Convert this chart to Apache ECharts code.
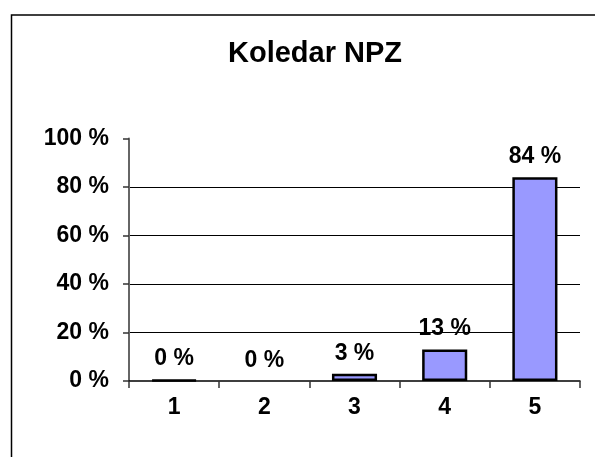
<!DOCTYPE html>
<html lang="sl">
<head>
    <meta charset="UTF-8">
    <title>Koledar NPZ</title>
    <style>
        html, body { margin: 0; padding: 0; background: #fff; }
    </style>
</head>
<body>
<div id="main" style="width:595px;height:457px;"></div>
<script src="https://cdn.jsdelivr.net/npm/echarts@6/dist/echarts.min.js"></script>
<script>
    // podatki
    var categories = ['1', '2', '3', '4', '5'];
    var values = [0.45, 0, 3, 13, 84];
    var yTicks = [0, 20, 40, 60, 80, 100];

    var font = '"Liberation Sans", Arial, sans-serif';
    var myChart = echarts.init(document.getElementById('main'));

    // stolpec z vrednostjo 0 nima obrobe
    var barData = values.map(function (v) {
        return v > 0 ? v : { value: v, itemStyle: { borderWidth: 0 } };
    });

    var option = {
        backgroundColor: '#fff',
        animation: false,
        title: {
            text: 'Koledar NPZ',
            left: 310,
            textAlign: 'center',
            top: 34,
            textStyle: {
                fontFamily: font,
                fontSize: 29,
                fontWeight: 'bold',
                color: '#000'
            }
        },
        graphic: [{
            type: 'rect',
            shape: { x: 11.5, y: 15, width: 620, height: 500 },
            style: { fill: 'none', stroke: '#000', lineWidth: 1.5 },
            z: -1
        }],
        grid: {
            left: 129,
            right: 15,
            top: 138.5,
            bottom: 76
        },
        xAxis: {
            type: 'category',
            data: categories,
            axisLine: { lineStyle: { color: '#000', width: 1.5 } },
            axisTick: { show: true, length: 7, lineStyle: { color: '#333', width: 1.5 } },
            axisLabel: {
                margin: 15,
                fontFamily: font,
                fontSize: 23,
                fontWeight: 'bold',
                color: '#000'
            }
        },
        yAxis: {
            type: 'value',
            min: yTicks[0],
            max: yTicks[yTicks.length - 1],
            interval: 20,
            axisLine: { show: true, lineStyle: { color: '#666', width: 2 } },
            axisTick: { show: true, length: 6, lineStyle: { color: '#333', width: 1.5 } },
            axisLabel: {
                margin: 20,
                fontFamily: font,
                fontSize: 23,
                fontWeight: 'bold',
                color: '#000',
                formatter: function (v) { return v + ' %'; }
            },
            splitLine: {
                show: true,
                showMaxLine: false,
                showMinLine: false,
                lineStyle: { color: '#000', width: 1.2 }
            }
        },
        series: [{
            type: 'bar',
            data: barData,
            barWidth: '50%',
            itemStyle: {
                color: '#9999ff',
                borderColor: '#000',
                borderWidth: 2.5
            },
            label: {
                show: true,
                position: 'top',
                distance: 9,
                fontFamily: font,
                fontSize: 23,
                fontWeight: 'bold',
                color: '#000',
                formatter: function (p) { return p.value.toFixed(0) + ' %'; }
            }
        }]
    };
    myChart.setOption(option);
</script>
</body>
</html>
